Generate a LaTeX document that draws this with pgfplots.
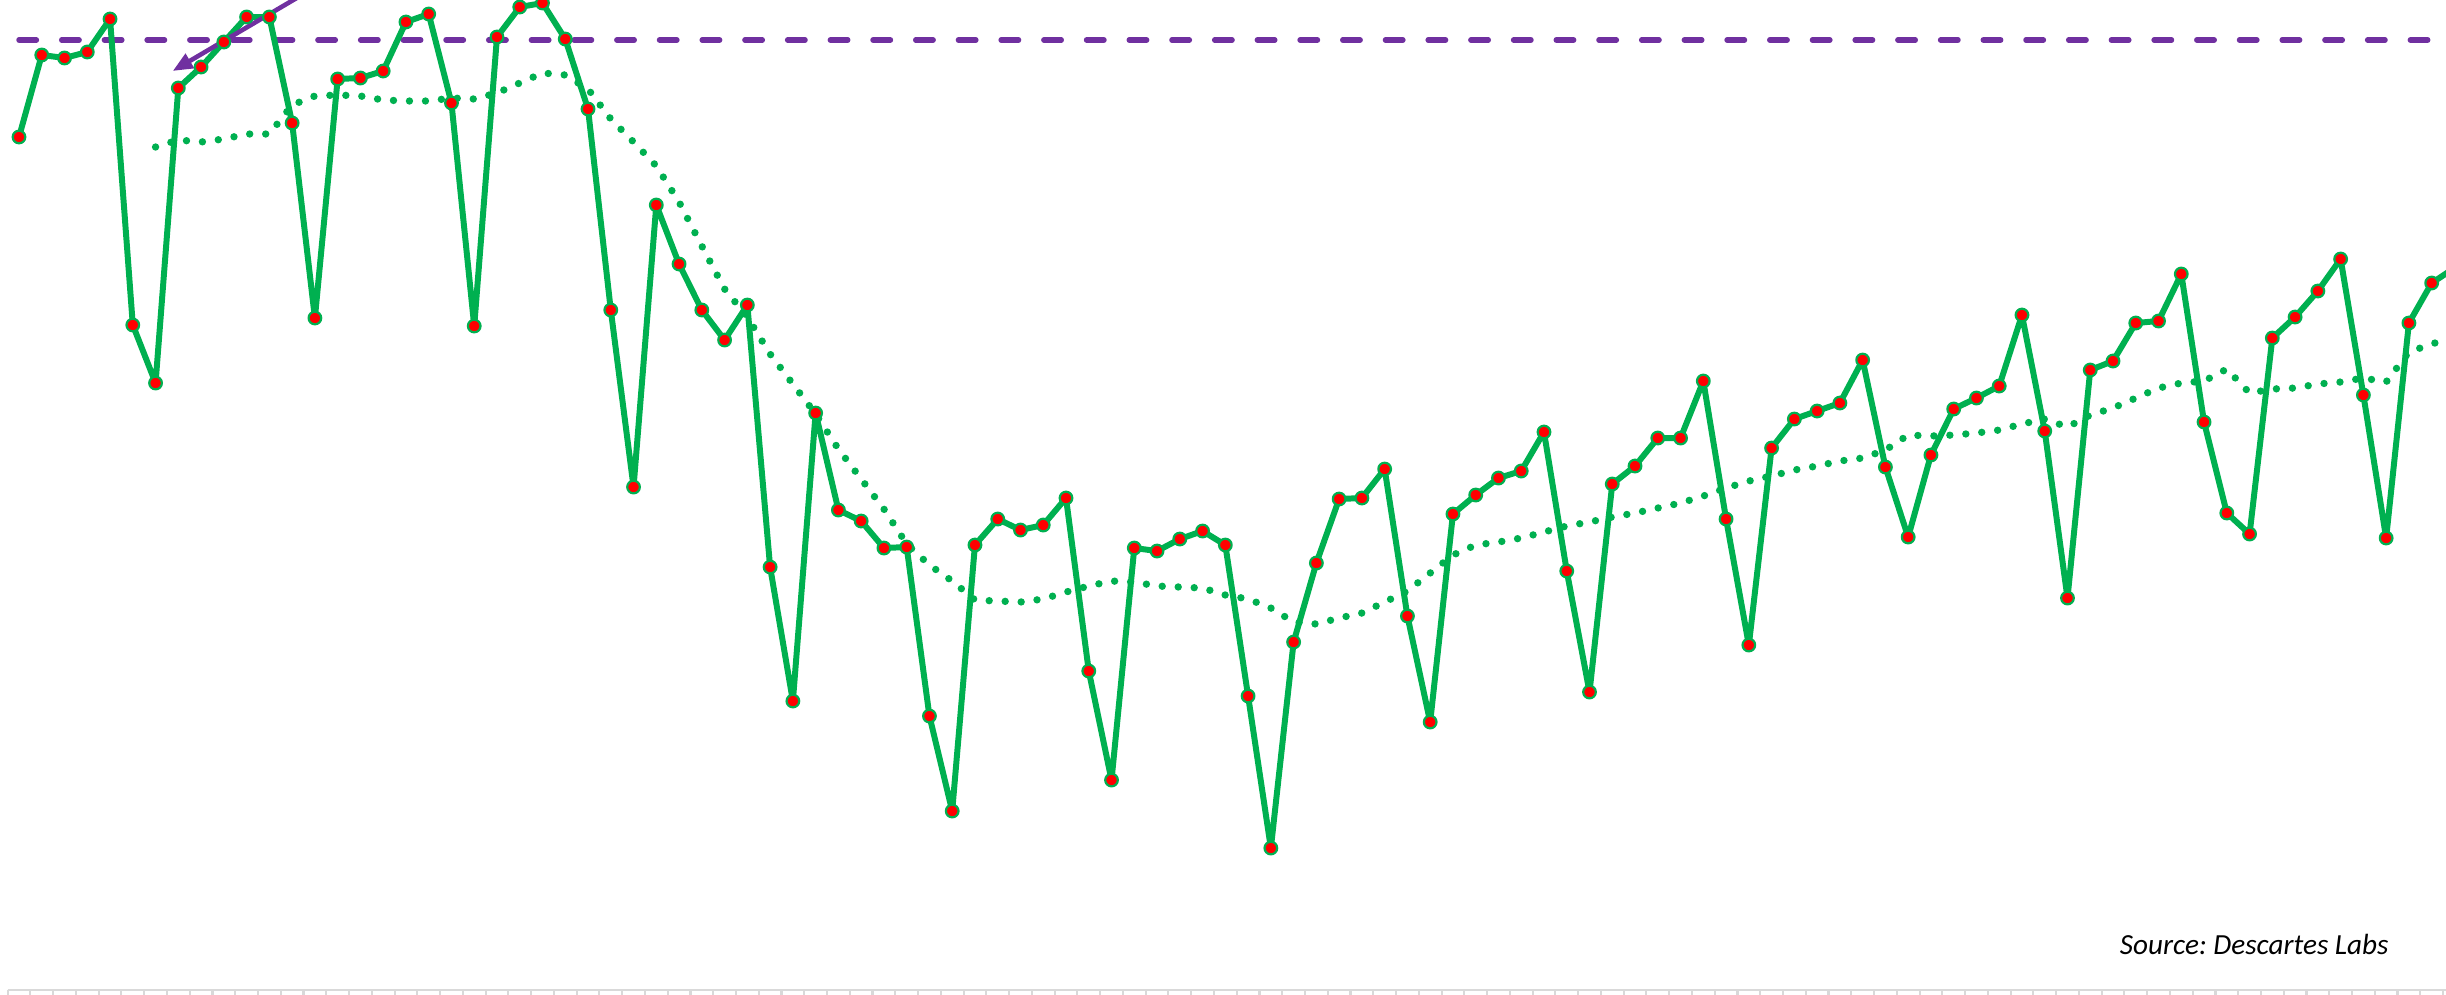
\documentclass[border=0pt]{standalone}
\usepackage{fontspec}
\setmainfont{Carlito}
\usepackage{pgfplots}
\usepackage{pgfplotstable}
\pgfplotsset{compat=1.18}
\usetikzlibrary{arrows.meta}

\definecolor{xlgreen}{HTML}{00B050}
\definecolor{xlpurple}{HTML}{7030A0}
\definecolor{xlred}{HTML}{FF0000}
\definecolor{axisgray}{HTML}{D9D9D9}

% daily mobility index
\pgfplotstableread{
day value
1 90.3
2 98.5
3 98.2
4 98.8
5 102.1
6 71.5
7 65.7
8 95.2
9 97.3
10 99.8
11 102.3
12 102.3
13 91.7
14 72.2
15 96.1
16 96.2
17 96.9
18 101.8
19 102.6
20 93.7
21 71.4
22 100.3
23 103.3
24 103.7
25 100.1
26 93.1
27 73.0
28 55.3
29 83.5
30 77.6
31 73.0
32 70.0
33 73.5
34 47.3
35 33.9
36 62.7
37 53.0
38 51.9
39 49.2
40 49.3
41 32.4
42 22.9
43 49.5
44 52.1
45 51.0
46 51.5
47 54.2
48 36.9
49 26.0
50 49.2
51 48.9
52 50.1
53 50.9
54 49.5
55 34.4
56 19.2
57 39.8
58 47.7
59 54.1
60 54.2
61 57.1
62 42.4
63 31.8
64 52.6
65 54.5
66 56.2
67 56.9
68 60.8
69 46.9
70 34.8
71 55.6
72 57.4
73 60.2
74 60.2
75 65.9
76 52.1
77 39.5
78 59.2
79 62.1
80 62.9
81 63.7
82 68.0
83 57.3
84 50.3
85 58.5
86 63.1
87 64.2
88 65.4
89 72.5
90 60.9
91 44.2
92 67.0
93 67.9
94 71.7
95 71.9
96 76.6
97 61.8
98 52.7
99 50.6
100 70.2
101 72.3
102 74.9
103 78.1
104 64.5
105 50.2
106 71.7
107 75.7
108 77.2
}\mobility

% 7-day trailing average
\pgfplotstableread{
day avg
7 89.3
8 90.0
9 89.8
10 90.1
11 90.6
12 90.6
13 93.5
14 94.4
15 94.5
16 94.4
17 94.0
18 93.9
19 93.9
20 94.2
21 94.1
22 94.7
23 95.7
24 96.7
25 96.5
26 95.1
27 92.1
28 89.8
29 87.4
30 83.8
31 79.4
32 75.1
33 72.3
34 68.6
35 65.6
36 62.6
37 59.1
38 56.1
39 53.1
40 49.6
41 47.5
42 45.9
43 44.0
44 43.9
45 43.8
46 44.1
47 44.8
48 45.4
49 45.9
50 45.8
51 45.4
52 45.3
53 45.2
54 44.5
55 44.1
56 43.2
57 41.8
58 41.6
59 42.2
60 42.7
61 43.8
62 44.9
63 46.7
64 48.5
65 49.5
66 49.8
67 50.2
68 50.8
69 51.4
70 51.8
71 52.3
72 52.7
73 53.2
74 53.7
75 54.4
76 55.2
77 55.9
78 56.4
79 57.0
80 57.4
81 57.9
82 58.2
83 59.0
84 60.5
85 60.4
86 60.5
87 60.7
88 61.0
89 61.6
90 62.1
91 61.3
92 62.5
93 63.2
94 64.2
95 65.2
96 65.7
97 65.9
98 67.1
99 64.7
100 65.1
101 65.2
102 65.6
103 65.8
104 66.2
105 65.8
106 68.8
107 69.6
108 70.3
}\weekavg

\frenchspacing

\begin{document}
\begin{tikzpicture}
\begin{axis}[
  x=2.276mm, y=1mm,
  xmin=0.5, xmax=107.63, ymin=5, ymax=104,
  enlargelimits=false,
  axis x line*=bottom, axis y line=none,
  x axis line style={axisgray, line width=0.6pt},
  xtick={0.5,1.5,...,107.5}, xticklabels={},
  ytick=\empty,
  tick align=outside, major tick length=1.2mm,
  x tick style={axisgray, line width=0.6pt},
  clip=true,
]
  % baseline level
  \addplot[xlpurple, line width=1.56pt, line cap=round,
           dash pattern=on 1.74mm off 2.53mm]
    coordinates {(1,100) (108,100)};
  % weekly average
  \addplot[xlgreen, line width=2.1pt, line cap=round,
           dash pattern=on 0pt off 1.6mm]
    table[x=day, y=avg] {\weekavg};
  % daily values
  \addplot[xlgreen, line width=1.7pt, line join=round,
           mark=*, mark size=1.8pt,
           mark options={solid, fill=xlred, draw=xlgreen, line width=0.62pt}]
    table[x=day, y=value] {\mobility};
  % annotation arrow
  \draw[xlpurple, line width=1.3pt,
        -{Triangle[length=2mm, width=1.6mm]}]
    (axis cs:15,106.61) -- (axis cs:7.753,96.9);
  \node[anchor=base east, inner sep=0pt,
        font=\fontsize{8.3}{10}\selectfont\itshape]
    at (axis cs:105.13,8.6) {Source: Descartes Labs};
  \coordinate (pageSW) at (axis cs:0.165,4.6);
  \coordinate (pageNE) at (axis cs:107.63,104);
\end{axis}
\pgfresetboundingbox
\path[use as bounding box] (pageSW) rectangle (pageNE);
\end{tikzpicture}
\end{document}
